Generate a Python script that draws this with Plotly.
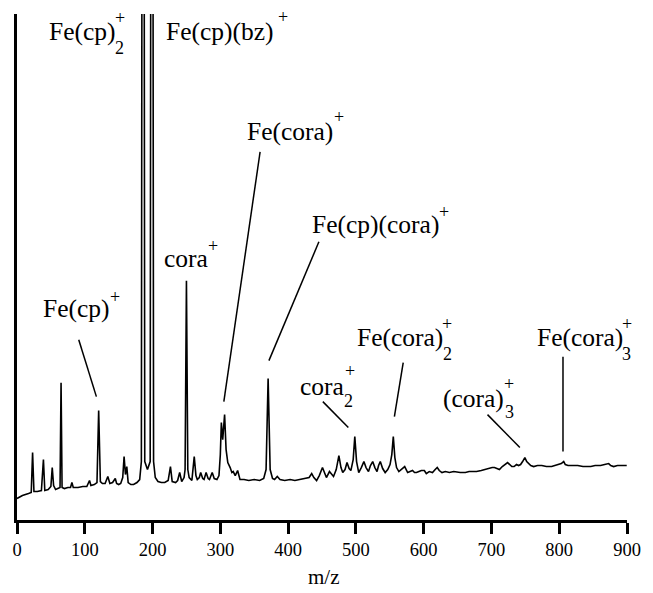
import plotly.graph_objects as go

# ---------------- data ----------------
mz = [0, 8, 17, 21, 23, 25, 30, 36, 39, 41, 46, 50, 52, 54, 57, 62, 63.5, 65, 66.5, 70,
      75, 79, 81, 83, 90, 97, 103, 107, 109, 114, 118, 120.5, 123, 126, 130, 134, 137, 141, 145, 147,
      150, 153, 156, 158, 160, 162, 164, 168, 172, 177, 181, 183.5, 186, 188.5, 192.5, 196.5, 199, 201.5, 204, 208,
      213, 218, 223, 226.4, 229, 234, 237, 240, 243, 246.5, 248, 250, 252, 254, 258, 261.5, 264, 266, 269, 271,
      274, 276, 279, 282, 284, 288, 291, 295, 298, 300, 301.5, 303.5, 306.3, 308.5, 311, 314.5, 317, 319, 322, 325.5,
      329, 335, 342, 350, 358, 364, 367.5, 370.5, 373.5, 377, 380, 384, 388, 395, 403, 410, 418, 425, 431, 434.8,
      438, 442, 446, 450.7, 456.5, 461, 467, 471, 474.9, 478, 480.6, 484, 486.9, 490, 492.6, 496, 498.4, 501, 504.2, 508,
      511.8, 515, 518.6, 521.5, 524.8, 528, 531.2, 533.5, 536, 539.5, 543.2, 547, 550.4, 553, 555.2, 557.5, 560, 563.4, 567, 572,
      576.4, 580, 583.6, 586.5, 589.4, 593, 596.6, 601, 603.9, 608.2, 613, 617, 620, 623, 627, 632, 638, 644.3, 650, 654,
      661.6, 667, 673.2, 678, 685, 690, 697, 701, 704.5, 708, 711.8, 716, 720, 723.8, 727, 730, 733.4, 737, 740, 743,
      746, 749.3, 752, 755.1, 758, 762.3, 768, 774.3, 781, 788.8, 794, 798.5, 803, 806.6, 809, 813, 820, 827.3, 835, 846.6,
      853, 861, 867, 873, 876, 880.3, 886, 893, 899.6]

intensity = [23, 26, 28, 29, 69, 30, 30, 31, 62, 31, 32, 35, 54, 36, 32, 33, 34, 139, 34, 33,
             34, 34, 39, 34, 34, 35, 35, 41, 36, 37, 39, 111, 40, 38, 38, 45, 38, 39, 43, 38,
             37, 38, 44, 65, 47, 55, 39, 37, 37, 39, 42, 60, 1600, 60, 52, 60, 1600, 60, 44, 40,
             39, 39, 41, 55, 40, 39, 41, 49, 40, 44, 52, 241, 52, 44, 41, 65, 46, 42, 44, 49,
             43, 42, 49, 43, 42, 49, 43, 42, 46, 67, 99, 82, 107, 72, 59, 54, 49, 50, 46, 51,
             42, 42, 41, 42, 41, 43, 52, 143, 52, 43, 42, 45, 42, 41, 42, 41, 42, 43, 44, 48,
             44, 41, 46, 54, 44, 50, 45, 52, 66, 54, 49, 52, 59, 53, 51, 62, 85, 60, 49, 54,
             60, 54, 50, 56, 60, 54, 50, 56, 60, 53, 49, 52, 57, 67, 85, 64, 54, 50, 52, 55,
             49, 50, 51, 49, 49, 50, 51, 51, 48, 50, 49, 52, 54, 51, 49, 50, 49, 50, 49, 49,
             49, 50, 50, 50, 51, 52, 53, 54, 54, 53, 52, 55, 57, 59, 57, 55, 55, 57, 56, 57,
             60, 64, 60, 58, 56, 55, 56, 56, 55, 55, 56, 57, 58, 60, 57, 56, 56, 56, 55, 55,
             56, 56, 57, 58, 56, 55, 56, 56, 56]

x_ticks = [0, 100, 200, 300, 400, 500, 600, 700, 800, 900]
x_title = "m/z"

label_main = ["Fe(cp)", "Fe(cp)(bz)", "Fe(cora)", "Fe(cp)(cora)", "cora", "Fe(cp)",
              "cora", "Fe(cora)", "(cora)", "Fe(cora)"]
label_sub = ["2", "", "", "", "", "", "2", "2", "3", "3"]
label_sup = ["+"] * 10

# ---------------- layout geometry (pixels in the 653x593 picture) ----------------
W, H = 653, 593
PL, PR, PT, PB = 15, 637.3, 14, 520.5          # plot area edges
XMAX = 900.0
SX = (PR - PL) / XMAX


def X(px):
    return (px - PL) / SX


def Y(py):
    return 522 - py


def PX(px):
    return (px - PL) / (PR - PL)


def PY(py):
    return (PB - py) / (PB - PT)


# label placement: (text left, baseline, sub centre, sup centre)
label_pos = [
    (48, 40, (120, 48), (120, 20)),
    (167, 40, None, (286, 19)),
    (250, 140, None, (343, 119)),
    (316, 233, None, (451, 214)),
    (165, 267, None, (215, 247.5)),
    (42, 317, None, (115, 299)),
    (304, 395, (353, 401), (354.5, 373)),
    (362, 346, (454, 354), (454, 326)),
    (450, 407, (517, 412.5), (517, 386)),
    (545, 346, (637, 354), (637, 326)),
]

leaders = [
    ((78, 340), (96, 397)),
    ((263, 152), (226, 402)),
    ((323, 242), (272, 361)),
    ((327, 402), (353, 428)),
    ((409, 363), (400, 417)),
    ((495, 415), (528, 448)),
    ((572, 357), (572, 452)),
]

FONT = "Liberation Serif"
FS = 25.5
FS_SMALL = 18

fig = go.Figure()
fig.add_trace(go.Scatter(x=mz, y=intensity, mode="lines",
                         line=dict(color="black", width=1.6), hoverinfo="skip",
                         showlegend=False))

annotations = []
for txt, sub, sup, (left, base, subc, supc) in zip(label_main, label_sub, label_sup, label_pos):
    annotations.append(dict(x=PX(left), y=PY(base - 0.3375 * FS), xref="paper", yref="paper",
                            text=txt, showarrow=False, xanchor="left", yanchor="middle",
                            borderpad=0, borderwidth=0,
                            font=dict(family=FONT, size=FS, color="black")))
    if sub:
        annotations.append(dict(x=PX(subc[0]), y=PY(subc[1]), xref="paper", yref="paper",
                                text=sub, showarrow=False, xanchor="center", yanchor="middle",
                                borderpad=0, borderwidth=0,
                                font=dict(family=FONT, size=FS_SMALL, color="black")))
    if sup:
        annotations.append(dict(x=PX(supc[0]), y=PY(supc[1] - 1.6), xref="paper", yref="paper",
                                text=sup, showarrow=False, xanchor="center", yanchor="middle",
                                borderpad=0, borderwidth=0,
                                font=dict(family=FONT, size=FS_SMALL, color="black")))

annotations.append(dict(x=PX(328), y=PY(578), xref="paper", yref="paper", text=x_title,
                        showarrow=False, xanchor="center", yanchor="middle",
                        font=dict(family=FONT, size=21, color="black")))

shapes = []
for (x0, y0), (x1, y1) in leaders:
    shapes.append(dict(type="line", xref="x", yref="y", x0=X(x0), y0=Y(y0), x1=X(x1), y1=Y(y1),
                       line=dict(color="black", width=1.5)))

fig.update_layout(
    width=W, height=H,
    margin=dict(l=PL, r=W - PR, t=PT, b=H - PB, pad=0),
    paper_bgcolor="white", plot_bgcolor="white",
    showlegend=False,
    annotations=annotations,
    shapes=shapes,
    font=dict(family=FONT, color="black"),
    xaxis=dict(range=[0, XMAX], tickvals=x_ticks, ticktext=[str(t) for t in x_ticks],
               ticks="outside", ticklen=11, tickwidth=2.5, tickcolor="black",
               showline=True, linewidth=3, linecolor="black",
               showgrid=False, zeroline=False,
               tickfont=dict(family=FONT, size=18.5, color="black")),
    yaxis=dict(range=[Y(PB), Y(PT)], showline=True, linewidth=3, linecolor="black",
               showticklabels=False, ticks="", showgrid=False, zeroline=False),
)

fig.write_html("out.html", config={"displayModeBar": False},
               post_script="document.body.style.margin='0';")
